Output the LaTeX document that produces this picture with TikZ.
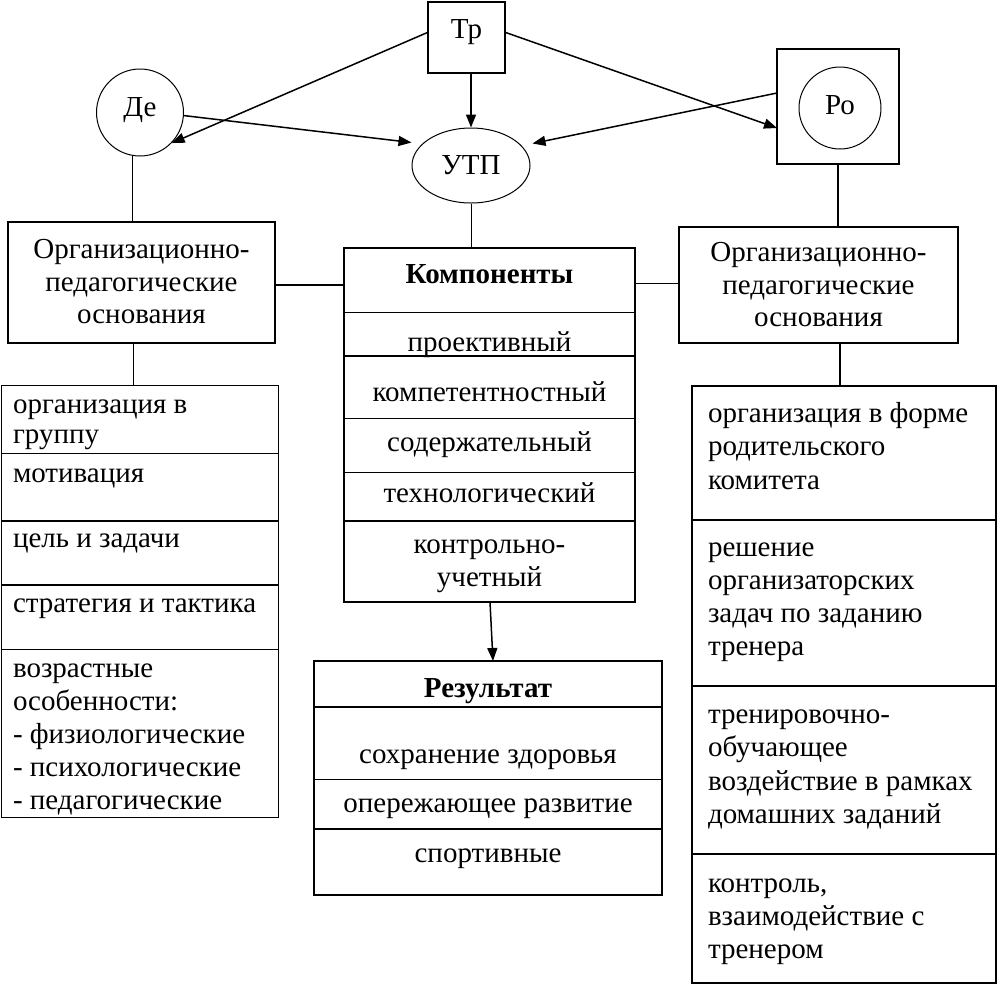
\documentclass[tikz,border=0pt]{standalone}
\usepackage{fontspec}
\setmainfont{Liberation Serif}
\usetikzlibrary{shapes.geometric,arrows.meta}
\newcommand\cellat[5]{\node[cell,minimum width={#3-#1},minimum height={#4-#2}] (#5) at ({(#1+#3)/2},{(#2+#4)/2}) {};}
\newcommand\tlc[4]{\node[txt,anchor=base] (#1) at (#2,#3) {#4};}
\newcommand\tll[4]{\node[txt,anchor=base west] (#1) at (#2,#3) {#4};}
\tikzset{
  cell/.style={draw,rectangle,inner sep=0pt,outer sep=0pt,line width=1pt},
  thk/.style={line width=2pt},
  thn/.style={line width=1pt},
  txt/.style={inner sep=0pt,outer sep=0pt,font=\fontsize{29pt}{33pt}\selectfont},
  arr/.style={line width=1.5pt,-{Triangle[length=13pt,width=10pt]}},
}
\begin{document}
\begin{tikzpicture}[x=1pt,y=-1pt]
\useasboundingbox (0,0) rectangle (997,986);
% top nodes
\cellat{428}{1.5}{505}{73}{Tr}
\draw[thk] (Tr.north west) rectangle (Tr.south east);
\cellat{777}{49}{899}{164}{Po}
\draw[thk] (Po.north west) rectangle (Po.south east);
\node[draw,circle,line width=1pt,minimum size=82pt,inner sep=0pt] (PoC) at (840,108) {};
\node[draw,circle,line width=1pt,minimum size=87pt,inner sep=0pt] (De) at (140,112.5) {};
\node[draw,ellipse,line width=1pt,minimum width=118pt,minimum height=75pt,inner sep=0pt] (UTP) at (471,165.5) {};
\tlc{tTr}{466.5}{38}{Тр}
\tlc{tDe}{140}{116}{Де}
\tlc{tUTP}{471}{174}{УТП}
\tlc{tPo}{840}{114}{Ро}
% org boxes
\cellat{8}{222}{275}{343}{orgL}
\draw[thk] (orgL.north west) rectangle (orgL.south east);
\cellat{679}{227}{958}{343}{orgR}
\draw[thk] (orgR.north west) rectangle (orgR.south east);
\tlc{oL1}{141.5}{258}{Организационно-}
\tlc{oL2}{141.5}{291}{педагогические}
\tlc{oL3}{141.5}{323}{основания}
\tlc{oR1}{818.5}{261}{Организационно-}
\tlc{oR2}{818.5}{294}{педагогические}
\tlc{oR3}{818.5}{326}{основания}
% components
\cellat{344}{248}{635}{312}{compH}
\cellat{344}{312}{635}{356}{comp1}
\cellat{344}{356}{635}{418}{comp2}
\cellat{344}{418}{635}{472}{comp3}
\cellat{344}{472}{635}{521}{comp4}
\cellat{344}{521}{635}{602}{comp5}
\draw[thk] (compH.north west) rectangle (comp5.south east);
\draw[thk] (comp1.south west) -- (comp1.south east);
\draw[thk] (comp4.south west) -- (comp4.south east);
\tlc{c0}{489.5}{283}{\textbf{Компоненты}}
\tlc{c1}{489.5}{351}{проективный}
\tlc{c2}{489.5}{401}{компетентностный}
\tlc{c3}{489.5}{451}{содержательный}
\tlc{c4}{489.5}{502}{технологический}
\tlc{c5a}{489.5}{553}{контрольно-}
\tlc{c5b}{489.5}{586}{учетный}
% result
\cellat{314}{661}{662}{707}{resH}
\cellat{314}{707}{662}{779}{res1}
\cellat{314}{779}{662}{829}{res2}
\cellat{314}{829}{662}{895}{res3}
\draw[thk] (resH.north west) rectangle (res3.south east);
\draw[thk] (resH.south west) -- (resH.south east);
\draw[thk] (res2.south west) -- (res2.south east);
\tlc{r0}{488}{697}{\textbf{Результат}}
\tlc{r1}{488}{763}{сохранение здоровья}
\tlc{r2}{488}{812}{опережающее развитие}
\tlc{r3}{488}{862}{спортивные}
% left column
\cellat{1}{385}{278}{453}{L1}
\cellat{1}{453}{278}{521}{L2}
\cellat{1}{521}{278}{585}{L3}
\cellat{1}{585}{278}{649}{L4}
\cellat{1}{649}{278}{817}{L5}
\draw[thk] (L2.south west) -- (L2.south east);
\draw[thk] (L3.south west) -- (L3.south east);
\tll{l1a}{13}{413}{организация в}
\tll{l1b}{13}{443}{группу}
\tll{l2}{13}{482}{мотивация}
\tll{l3}{13}{547}{цель и задачи}
\tll{l4}{13}{612}{стратегия и тактика}
\tll{l5a}{13}{677}{возрастные}
\tll{l5b}{13}{710}{особенности:}
\tll{l5c}{13}{743}{- физиологические}
\tll{l5d}{13}{776}{- психологические}
\tll{l5e}{13}{809}{- педагогические}
% right column
\cellat{692}{386}{996}{520}{R1}
\cellat{692}{520}{996}{686}{R2}
\cellat{692}{686}{996}{854}{R3}
\cellat{692}{854}{996}{983}{R4}
\draw[thk] (R1.north west) rectangle (R4.south east);
\draw[thk] (R1.south west) -- (R1.south east);
\draw[thk] (R2.south west) -- (R2.south east);
\draw[thk] (R3.south west) -- (R3.south east);
\tll{q1a}{708}{422}{организация в форме}
\tll{q1b}{708}{455}{родительского}
\tll{q1c}{708}{489}{комитета}
\tll{q2a}{708}{556}{решение}
\tll{q2b}{708}{589}{организаторских}
\tll{q2c}{708}{622}{задач по заданию}
\tll{q2d}{708}{655}{тренера}
\tll{q3a}{708}{723}{тренировочно-}
\tll{q3b}{708}{756}{обучающее}
\tll{q3c}{708}{790}{воздействие в рамках}
\tll{q3d}{708}{823}{домашних заданий}
\tll{q4a}{708}{892}{контроль,}
\tll{q4b}{708}{925}{взаимодействие с}
\tll{q4c}{708}{958}{тренером}
% arrows
\draw[arr] ([yshift=5pt]Tr.west) -- (De.-44);
\draw[arr] (De.-4) -- ([yshift=23pt]UTP.west);
\draw[arr] (UTP.north |- Tr.south) -- (UTP.north);
\draw[arr] ([yshift=5pt]Tr.east) -- ([yshift=-21.5pt]Po.west);
\draw[arr] ([yshift=13.5pt]Po.west) -- ([xshift=2pt,yshift=22pt]UTP.east);
\draw[arr] ([xshift=0.5pt]comp5.south) -- ([xshift=5pt]resH.north);
% connectors
\draw[thn] (De.260) -- (De.260 |- orgL.north);
\draw[thn] ([xshift=-8.5pt]orgL.south) -- ([xshift=-8.5pt]orgL.south |- L1.north);
\draw[thn] (UTP.south) -- (UTP.south |- compH.north);
\draw[thk] (Po.south) -- (Po.south |- orgR.north);
\draw[thk] ([xshift=2pt]Po.south |- orgR.south) -- ([xshift=2pt]Po.south |- R1.north);
\draw[line width=2.5pt] ([yshift=-2.5pt]orgL.east) -- ([yshift=-2.5pt]orgL.east -| compH.west);
\draw[thn] ([yshift=-3pt]compH.east) -- ([yshift=-3pt]compH.east -| orgR.west);
\end{tikzpicture}
\end{document}
